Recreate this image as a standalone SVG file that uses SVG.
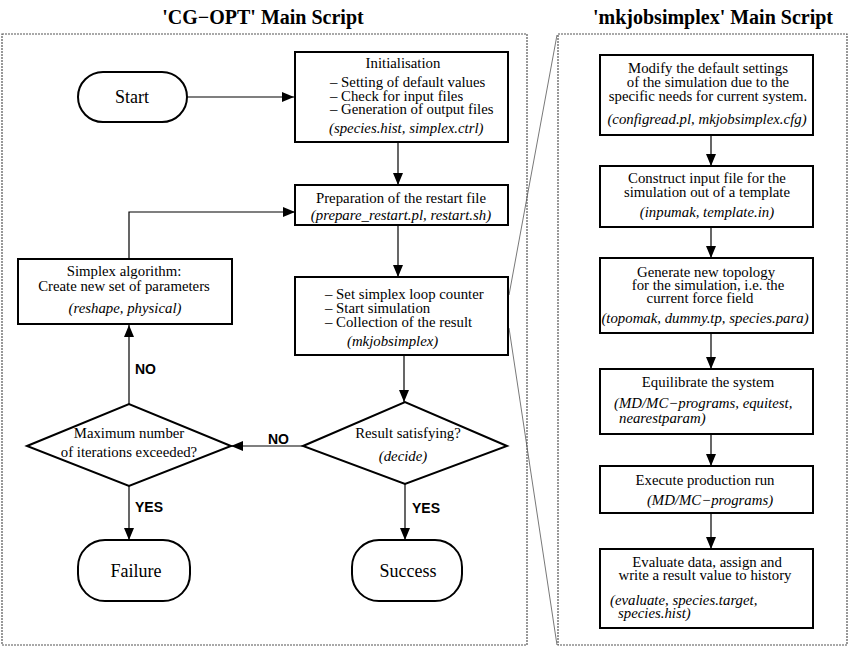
<svg xmlns="http://www.w3.org/2000/svg" width="850" height="647" viewBox="0 0 850 647">
<style>
text{font-family:"Liberation Serif","Times New Roman",serif;font-size:14.8px;fill:#000}
.t{font-size:20px;font-weight:bold}
.c{text-anchor:middle}
.i{font-style:italic}
.big{font-size:18px}
.lab{font-family:"Liberation Sans",Arial,sans-serif;font-weight:bold;font-size:14px}
.box{fill:#fff;stroke:#000;stroke-width:2}
.frame{fill:none;stroke:#555;stroke-width:1.2;stroke-dasharray:2,1}
.con{fill:none;stroke:#000;stroke-width:1.2}
.zoom{fill:none;stroke:#555;stroke-width:0.8}
</style>
<defs>
<marker id="ah" viewBox="0 0 12 10" refX="12" refY="5" markerWidth="12" markerHeight="10" markerUnits="userSpaceOnUse" orient="auto">
<path d="M0,0 L12,5 L0,10 Z" fill="#000"/>
</marker>
</defs>
<rect width="850" height="647" fill="#fff"/>
<text class="t c" x="263" y="24">'CG−OPT' Main Script</text>
<text class="t c" x="713" y="24">'mkjobsimplex' Main Script</text>
<rect class="frame" x="2" y="34" width="525" height="611"/>
<rect class="frame" x="558" y="34" width="289" height="611"/>
<g id="zoomlines">
<line class="zoom" x1="557" y1="35" x2="509" y2="295"/>
<line class="zoom" x1="509" y1="328" x2="557" y2="645"/>
</g>
<g id="connectors">
<line class="con" x1="187" y1="97" x2="294" y2="97" marker-end="url(#ah)"/>
<line class="con" x1="398" y1="142" x2="398" y2="185" marker-end="url(#ah)"/>
<line class="con" x1="398" y1="225" x2="398" y2="277" marker-end="url(#ah)"/>
<line class="con" x1="404" y1="355" x2="404" y2="402" marker-end="url(#ah)"/>
<line class="con" x1="405" y1="484" x2="405" y2="540" marker-end="url(#ah)"/>
<line class="con" x1="303" y1="446" x2="231" y2="446" marker-end="url(#ah)"/>
<line class="con" x1="129" y1="486" x2="129" y2="540" marker-end="url(#ah)"/>
<line class="con" x1="129" y1="404" x2="129" y2="325" marker-end="url(#ah)"/>
<polyline class="con" points="129,259 129,212 295,212" marker-end="url(#ah)"/>
<line class="con" x1="711" y1="135" x2="711" y2="166" marker-end="url(#ah)"/>
<line class="con" x1="711" y1="227" x2="711" y2="258" marker-end="url(#ah)"/>
<line class="con" x1="711" y1="333" x2="711" y2="369" marker-end="url(#ah)"/>
<line class="con" x1="711" y1="434" x2="711" y2="466" marker-end="url(#ah)"/>
<line class="con" x1="711" y1="513" x2="711" y2="549" marker-end="url(#ah)"/>
<text class="lab" x="135" y="374">NO</text>
<text class="lab" x="268" y="444">NO</text>
<text class="lab" x="135" y="512">YES</text>
<text class="lab" x="412" y="513">YES</text>
</g>
<g id="start">
<rect class="box" x="78" y="72" width="109" height="50" rx="25"/>
<text class="c big" x="132" y="103">Start</text>
</g>
<g id="init">
<rect class="box" x="295" y="52" width="213" height="90"/>
<text class="c" x="403" y="68">Initialisation</text>
<text x="330" y="87">– Setting of default values</text>
<text x="330" y="101">– Check for input files</text>
<text x="330" y="114">– Generation of output files</text>
<text class="i" x="329" y="133">(species.hist, simplex.ctrl)</text>
</g>
<g id="prep">
<rect class="box" x="295" y="185" width="213" height="40"/>
<text class="c" x="401" y="203">Preparation of the restart file</text>
<text class="c i" x="401" y="220">(prepare_restart.pl, restart.sh)</text>
</g>
<g id="simplex">
<rect class="box" x="18" y="259" width="214" height="65"/>
<text class="c" x="124" y="276">Simplex algorithm:</text>
<text class="c" x="124" y="291">Create new set of parameters</text>
<text class="c i" x="125" y="313">(reshape, physical)</text>
</g>
<g id="loop">
<rect class="box" x="295" y="277" width="213" height="78"/>
<text x="325" y="299">– Set simplex loop counter</text>
<text x="325" y="313">– Start simulation</text>
<text x="325" y="327">– Collection of the result</text>
<text class="i" x="347" y="346">(mkjobsimplex)</text>
</g>
<g id="result">
<polygon class="box" points="303,446 405,402 507,446 405,484"/>
<text class="c" x="408" y="438">Result satisfying?</text>
<text class="c i" x="403" y="461">(decide)</text>
</g>
<g id="maxiter">
<polygon class="box" points="27,446 129,404 231,446 129,486"/>
<text class="c" x="129" y="438">Maximum number</text>
<text class="c" x="129" y="457">of iterations exceeded?</text>
</g>
<g id="failure">
<rect class="box" x="78" y="540" width="112" height="61" rx="27"/>
<text class="c big" x="136" y="577">Failure</text>
</g>
<g id="success">
<rect class="box" x="352" y="540" width="110" height="61" rx="27"/>
<text class="c big" x="408" y="577">Success</text>
</g>
<g id="modify">
<rect class="box" x="600" y="55" width="213" height="80"/>
<text class="c" x="708" y="73">Modify the default settings</text>
<text class="c" x="708" y="87">of the simulation due to the</text>
<text class="c" x="708" y="101">specific needs for current system.</text>
<text class="c i" x="707" y="124">(configread.pl, mkjobsimplex.cfg)</text>
</g>
<g id="construct">
<rect class="box" x="600" y="166" width="213" height="61"/>
<text class="c" x="707" y="183">Construct input file for the</text>
<text class="c" x="707" y="197">simulation out of a template</text>
<text class="c i" x="707" y="217">(inpumak, template.in)</text>
</g>
<g id="topology">
<rect class="box" x="600" y="258" width="213" height="75"/>
<text class="c" x="706" y="277">Generate new topology</text>
<text class="c" x="708" y="290">for the simulation, i.e. the</text>
<text class="c" x="700" y="303">current force field</text>
<text class="c i" x="705" y="323">(topomak, dummy.tp, species.para)</text>
</g>
<g id="equil">
<rect class="box" x="600" y="369" width="213" height="65"/>
<text class="c" x="708" y="387">Equilibrate the system</text>
<text class="i" x="614" y="408">(MD/MC−programs, equitest,</text>
<text class="i" x="619" y="423">nearestparam)</text>
</g>
<g id="production">
<rect class="box" x="600" y="466" width="213" height="47"/>
<text class="c" x="705" y="485">Execute production run</text>
<text class="c i" x="710" y="505">(MD/MC−programs)</text>
</g>
<g id="evaluate">
<rect class="box" x="600" y="549" width="213" height="79"/>
<text class="c" x="707" y="567">Evaluate data, assign and</text>
<text class="c" x="705" y="580">write a result value to history</text>
<text class="i" x="610" y="605">(evaluate, species.target,</text>
<text class="i" x="618" y="618">species.hist)</text>
</g>
</svg>
